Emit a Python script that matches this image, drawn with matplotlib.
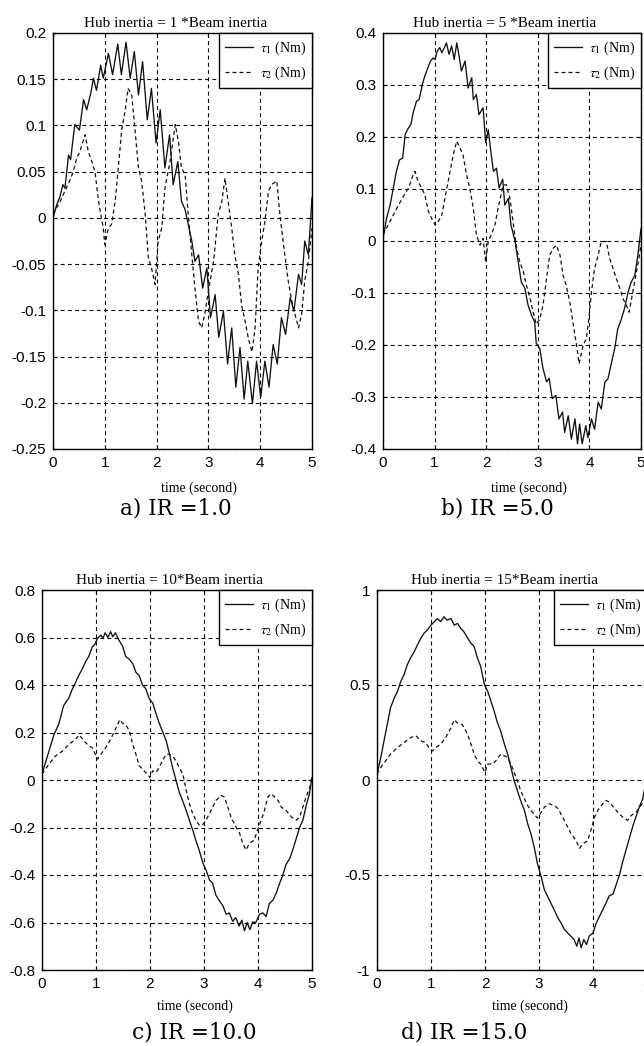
import matplotlib

matplotlib.use("Agg")
import matplotlib.pyplot as plt
from matplotlib.ticker import FixedLocator, FuncFormatter

plt.rcParams["mathtext.fontset"] = "stix"

# ---- panel a: hub inertia = 1 * beam inertia ----
A_TAU1_T = [0.00, 0.07, 0.135, 0.19, 0.23, 0.30, 0.34, 0.42, 0.51, 0.59, 0.65, 0.73, 0.78,
            0.84, 0.92, 0.97, 1.07, 1.15, 1.25, 1.32, 1.41, 1.49, 1.57, 1.65, 1.73, 1.82,
            1.90, 1.99, 2.07, 2.16, 2.25, 2.32, 2.41, 2.48, 2.55, 2.61, 2.68, 2.74, 2.81,
            2.89, 2.97, 3.04, 3.13, 3.20, 3.29, 3.37, 3.45, 3.53, 3.61, 3.69, 3.76, 3.85,
            3.93, 4.01, 4.09, 4.17, 4.25, 4.33, 4.41, 4.49, 4.58, 4.65, 4.74, 4.80, 4.86,
            4.93, 5.00]
A_TAU1_V = [0.0, 0.014, 0.023, 0.036, 0.032, 0.068, 0.063, 0.101, 0.095, 0.128, 0.117, 0.135,
            0.151, 0.138, 0.165, 0.151, 0.178, 0.155, 0.188, 0.155, 0.190, 0.151, 0.180, 0.133,
            0.169, 0.106, 0.140, 0.081, 0.117, 0.054, 0.090, 0.036, 0.061, 0.018, 0.009, -0.007,
            -0.025, -0.047, -0.040, -0.076, -0.054, -0.108, -0.083, -0.129, -0.101, -0.158,
            -0.119, -0.183, -0.140, -0.196, -0.155, -0.201, -0.155, -0.194, -0.155, -0.183,
            -0.137, -0.158, -0.108, -0.126, -0.086, -0.101, -0.061, -0.072, -0.025, -0.040,
            0.022]
A_TAU2_T = [0.00, 0.14, 0.23, 0.33, 0.39, 0.46, 0.52, 0.62, 0.68, 0.75, 0.81, 0.88, 0.94,
            0.97, 1.00, 1.07, 1.13, 1.20, 1.26, 1.33, 1.39, 1.45, 1.52, 1.58, 1.65, 1.71,
            1.78, 1.84, 1.90, 1.97, 2.03, 2.10, 2.16, 2.26, 2.36, 2.42, 2.48, 2.55, 2.61,
            2.68, 2.74, 2.81, 2.87, 2.93, 3.00, 3.10, 3.19, 3.26, 3.32, 3.38, 3.45, 3.51,
            3.58, 3.64, 3.71, 3.77, 3.84, 3.90, 3.96, 4.03, 4.09, 4.16, 4.22, 4.32, 4.38,
            4.45, 4.54, 4.61, 4.67, 4.74, 4.80, 4.86, 4.93, 5.00]
A_TAU2_V = [0.004, 0.018, 0.029, 0.041, 0.050, 0.065, 0.072, 0.090, 0.072, 0.061, 0.050,
            0.018, -0.002, -0.011, -0.029, -0.011, -0.007, 0.018, 0.054, 0.097, 0.115, 0.140,
            0.133, 0.097, 0.054, 0.040, 0.004, -0.043, -0.054, -0.072, -0.025, -0.011, 0.032,
            0.061, 0.101, 0.083, 0.054, 0.047, 0.004, -0.040, -0.076, -0.112, -0.119, -0.104,
            -0.079, -0.047, 0.004, 0.018, 0.043, 0.018, -0.011, -0.040, -0.061, -0.094,
            -0.112, -0.130, -0.145, -0.120, -0.054, -0.025, -0.004, 0.029, 0.036, 0.040,
            0.004, -0.029, -0.068, -0.090, -0.104, -0.119, -0.104, -0.068, -0.047, -0.011]
A_YTICKS = [-0.25, -0.2, -0.15, -0.1, -0.05, 0, 0.05, 0.1, 0.15, 0.2]

# ---- panel b: hub inertia = 5 * beam inertia ----
B_TAU1_T = [0.00, 0.07, 0.14, 0.20, 0.26, 0.32, 0.38, 0.43, 0.49, 0.54, 0.59, 0.65, 0.70,
            0.77, 0.81, 0.88, 0.92, 0.97, 1.01, 1.05, 1.10, 1.14, 1.19, 1.23, 1.28, 1.33,
            1.38, 1.43, 1.48, 1.52, 1.59, 1.65, 1.72, 1.75, 1.81, 1.86, 1.94, 1.99, 2.04,
            2.09, 2.14, 2.20, 2.25, 2.32, 2.36, 2.43, 2.48, 2.56, 2.62, 2.68, 2.75, 2.81,
            2.88, 2.94, 2.97, 3.04, 3.10, 3.17, 3.22, 3.28, 3.35, 3.41, 3.48, 3.52, 3.59,
            3.65, 3.72, 3.77, 3.81, 3.86, 3.93, 3.97, 4.04, 4.10, 4.17, 4.23, 4.30, 4.36,
            4.43, 4.49, 4.55, 4.62, 4.68, 4.75, 4.81, 4.88, 4.94, 5.00]
B_TAU1_V = [0.005, 0.044, 0.070, 0.102, 0.134, 0.156, 0.159, 0.205, 0.217, 0.224, 0.249,
            0.269, 0.272, 0.304, 0.317, 0.336, 0.346, 0.352, 0.349, 0.365, 0.372, 0.362,
            0.372, 0.381, 0.359, 0.375, 0.349, 0.381, 0.352, 0.327, 0.346, 0.294, 0.314,
            0.272, 0.282, 0.243, 0.256, 0.189, 0.214, 0.172, 0.134, 0.140, 0.102, 0.119,
            0.069, 0.082, 0.031, -0.001, -0.040, -0.079, -0.091, -0.123, -0.143, -0.156,
            -0.197, -0.207, -0.245, -0.271, -0.264, -0.303, -0.297, -0.342, -0.329, -0.368,
            -0.336, -0.381, -0.342, -0.390, -0.352, -0.390, -0.355, -0.378, -0.342, -0.362,
            -0.310, -0.323, -0.271, -0.265, -0.233, -0.207, -0.169, -0.150, -0.130, -0.098,
            -0.079, -0.066, -0.027, 0.024]
B_TAU2_T = [0.00, 0.10, 0.20, 0.30, 0.39, 0.49, 0.59, 0.62, 0.68, 0.75, 0.81, 0.88, 0.94,
            1.01, 1.07, 1.14, 1.20, 1.30, 1.36, 1.43, 1.49, 1.55, 1.62, 1.68, 1.75, 1.81,
            1.88, 1.94, 1.99, 2.04, 2.10, 2.17, 2.23, 2.33, 2.39, 2.46, 2.52, 2.59, 2.65,
            2.72, 2.78, 2.85, 2.91, 2.97, 3.04, 3.10, 3.17, 3.23, 3.30, 3.36, 3.43, 3.49,
            3.55, 3.62, 3.68, 3.75, 3.80, 3.88, 3.94, 3.99, 4.04, 4.10, 4.17, 4.23, 4.33,
            4.39, 4.46, 4.52, 4.59, 4.65, 4.72, 4.77, 4.83, 4.90, 4.96, 5.00]
B_TAU2_V = [0.012, 0.031, 0.050, 0.069, 0.085, 0.101, 0.129, 0.134, 0.114, 0.102, 0.089,
            0.057, 0.044, 0.031, 0.037, 0.050, 0.082, 0.134, 0.166, 0.192, 0.179, 0.166,
            0.127, 0.102, 0.063, 0.012, -0.008, 0.005, -0.040, 0.000, 0.012, 0.031, 0.063,
            0.108, 0.108, 0.082, 0.037, -0.014, -0.040, -0.059, -0.085, -0.111, -0.137,
            -0.160, -0.150, -0.124, -0.072, -0.027, -0.014, -0.008, -0.027, -0.066, -0.085,
            -0.117, -0.156, -0.200, -0.236, -0.200, -0.188, -0.149, -0.098, -0.053, -0.027,
            -0.001, -0.001, -0.033, -0.053, -0.072, -0.091, -0.111, -0.124, -0.137, -0.104,
            -0.066, -0.033, -0.008]
B_YTICKS = [-0.4, -0.3, -0.2, -0.1, 0, 0.1, 0.2, 0.3, 0.4]

# ---- panel c: hub inertia = 10 * beam inertia ----
C_TAU1_T = [0.00, 0.10, 0.22, 0.31, 0.40, 0.50, 0.56, 0.62, 0.68, 0.74, 0.81, 0.87, 0.93,
            0.97, 1.03, 1.09, 1.13, 1.17, 1.22, 1.27, 1.31, 1.36, 1.42, 1.49, 1.55, 1.61,
            1.68, 1.74, 1.80, 1.86, 1.92, 1.99, 2.05, 2.11, 2.17, 2.24, 2.30, 2.36, 2.42,
            2.48, 2.54, 2.60, 2.67, 2.73, 2.79, 2.85, 2.91, 2.98, 3.04, 3.10, 3.16, 3.22,
            3.29, 3.35, 3.41, 3.47, 3.53, 3.59, 3.65, 3.70, 3.75, 3.80, 3.85, 3.90, 3.96,
            4.03, 4.09, 4.15, 4.21, 4.28, 4.34, 4.40, 4.46, 4.52, 4.59, 4.65, 4.71, 4.77,
            4.83, 4.89, 4.95, 5.00]
C_TAU1_V = [0.025, 0.100, 0.190, 0.235, 0.313, 0.347, 0.382, 0.410, 0.440, 0.465, 0.500,
            0.522, 0.560, 0.568, 0.597, 0.610, 0.597, 0.620, 0.600, 0.625, 0.603, 0.620,
            0.590, 0.565, 0.520, 0.510, 0.490, 0.453, 0.440, 0.400, 0.385, 0.340, 0.325,
            0.280, 0.240, 0.200, 0.165, 0.110, 0.050, 0.000, -0.050, -0.085, -0.128, -0.170,
            -0.210, -0.255, -0.295, -0.350, -0.380, -0.420, -0.435, -0.485, -0.510, -0.530,
            -0.565, -0.560, -0.595, -0.580, -0.615, -0.590, -0.635, -0.600, -0.630, -0.598,
            -0.600, -0.565, -0.560, -0.575, -0.520, -0.505, -0.475, -0.435, -0.400, -0.355,
            -0.330, -0.290, -0.245, -0.200, -0.170, -0.110, -0.060, 0.010]
C_TAU2_T = [0.00, 0.13, 0.25, 0.38, 0.50, 0.62, 0.69, 0.78, 0.87, 0.93, 1.03, 1.09, 1.18,
            1.27, 1.37, 1.44, 1.49, 1.55, 1.62, 1.68, 1.74, 1.80, 1.86, 1.92, 2.00, 2.05,
            2.11, 2.17, 2.23, 2.30, 2.36, 2.42, 2.48, 2.54, 2.61, 2.67, 2.73, 2.79, 2.85,
            2.91, 2.97, 3.04, 3.10, 3.16, 3.22, 3.32, 3.38, 3.44, 3.50, 3.59, 3.66, 3.72,
            3.78, 3.84, 3.93, 3.99, 4.06, 4.12, 4.18, 4.24, 4.31, 4.37, 4.43, 4.52, 4.62,
            4.71, 4.77, 4.83, 4.89, 4.96, 5.00]
C_TAU2_V = [0.025, 0.067, 0.101, 0.122, 0.150, 0.171, 0.190, 0.164, 0.143, 0.136, 0.088,
            0.108, 0.136, 0.171, 0.219, 0.254, 0.240, 0.233, 0.206, 0.150, 0.108, 0.060,
            0.046, 0.032, 0.011, 0.039, 0.032, 0.053, 0.081, 0.108, 0.108, 0.101, 0.081,
            0.053, 0.025, -0.044, -0.100, -0.142, -0.169, -0.190, -0.190, -0.169, -0.142,
            -0.114, -0.086, -0.065, -0.072, -0.114, -0.156, -0.197, -0.225, -0.267, -0.295,
            -0.267, -0.253, -0.211, -0.169, -0.128, -0.072, -0.058, -0.072, -0.086, -0.114,
            -0.128, -0.156, -0.169, -0.156, -0.114, -0.072, -0.031, 0.011]
C_YTICKS = [-0.8, -0.6, -0.4, -0.2, 0, 0.2, 0.4, 0.6, 0.8]

# ---- panel d: hub inertia = 15 * beam inertia ----
D_TAU1_T = [0.00, 0.07, 0.13, 0.19, 0.25, 0.32, 0.38, 0.44, 0.50, 0.56, 0.62, 0.69, 0.75,
            0.81, 0.87, 0.93, 1.00, 1.06, 1.12, 1.18, 1.24, 1.30, 1.37, 1.43, 1.49, 1.55,
            1.61, 1.68, 1.74, 1.80, 1.86, 1.92, 1.99, 2.05, 2.11, 2.17, 2.23, 2.29, 2.36,
            2.42, 2.48, 2.54, 2.60, 2.66, 2.73, 2.79, 2.85, 2.91, 2.97, 3.04, 3.10, 3.16,
            3.22, 3.28, 3.35, 3.41, 3.47, 3.53, 3.59, 3.65, 3.70, 3.74, 3.78, 3.83, 3.88,
            3.93, 4.00, 4.06, 4.12, 4.18, 4.24, 4.30, 4.37, 4.43, 4.49, 4.55, 4.61, 4.68,
            4.74, 4.80, 4.86, 4.92, 5.00]
D_TAU1_V = [0.031, 0.118, 0.206, 0.293, 0.380, 0.432, 0.467, 0.519, 0.554, 0.606, 0.641,
            0.676, 0.711, 0.746, 0.772, 0.789, 0.815, 0.833, 0.850, 0.833, 0.859, 0.841,
            0.850, 0.815, 0.824, 0.798, 0.780, 0.746, 0.720, 0.702, 0.641, 0.598, 0.502,
            0.467, 0.415, 0.362, 0.301, 0.258, 0.188, 0.136, 0.066, -0.003, -0.056, -0.108,
            -0.160, -0.230, -0.282, -0.352, -0.439, -0.509, -0.578, -0.613, -0.648, -0.683,
            -0.726, -0.753, -0.787, -0.805, -0.822, -0.840, -0.875, -0.831, -0.883, -0.840,
            -0.866, -0.822, -0.805, -0.753, -0.718, -0.683, -0.648, -0.610, -0.600, -0.550,
            -0.500, -0.430, -0.370, -0.300, -0.240, -0.190, -0.140, -0.100, 0.020]
D_TAU2_T = [0.00, 0.07, 0.16, 0.25, 0.38, 0.50, 0.62, 0.72, 0.81, 0.90, 0.96, 1.03, 1.09,
            1.18, 1.27, 1.37, 1.43, 1.49, 1.58, 1.68, 1.74, 1.80, 1.86, 1.92, 2.00, 2.05,
            2.14, 2.20, 2.29, 2.36, 2.42, 2.48, 2.54, 2.60, 2.66, 2.73, 2.79, 2.85, 2.91,
            2.97, 3.04, 3.10, 3.19, 3.28, 3.35, 3.41, 3.50, 3.59, 3.69, 3.75, 3.81, 3.90,
            3.96, 4.03, 4.09, 4.18, 4.24, 4.30, 4.37, 4.46, 4.55, 4.64, 4.71, 4.80, 4.89,
            4.95]
D_TAU2_V = [0.031, 0.066, 0.101, 0.136, 0.171, 0.197, 0.223, 0.233, 0.206, 0.197, 0.171,
            0.153, 0.171, 0.188, 0.223, 0.275, 0.317, 0.300, 0.291, 0.240, 0.188, 0.136,
            0.101, 0.084, 0.040, 0.084, 0.084, 0.101, 0.136, 0.127, 0.118, 0.084, 0.040,
            -0.003, -0.056, -0.099, -0.134, -0.160, -0.180, -0.200, -0.170, -0.143, -0.125,
            -0.134, -0.150, -0.180, -0.230, -0.280, -0.320, -0.360, -0.335, -0.320, -0.265,
            -0.195, -0.160, -0.125, -0.108, -0.115, -0.140, -0.170, -0.195, -0.212, -0.186,
            -0.169, -0.134, -0.108]
D_YTICKS = [-1, -0.5, 0, 0.5, 1]

X_TICKS = [0, 1, 2, 3, 4, 5]
TITLES = ["Hub inertia = 1 *Beam inertia", "Hub inertia = 5 *Beam inertia",
          "Hub inertia = 10*Beam inertia", "Hub inertia = 15*Beam inertia"]
CAPTIONS = ["a) IR =1.0", "b) IR =5.0", "c) IR =10.0", "d) IR =15.0"]
LABELS = [r"$\tau_1$ (Nm)", r"$\tau_2$ (Nm)"]

W, H = 644, 1046
# axes boxes in pixels: left, top, right, bottom
BOXES = [(53, 33, 312, 449), (383, 33, 641, 449),
         (42, 590, 312, 970), (377, 590, 647, 970)]
CAPTION_XY = [(176, 508), (497, 508), (194, 1032), (464, 1032)]

SERIES = [
    (A_TAU1_T, A_TAU1_V, A_TAU2_T, A_TAU2_V, A_YTICKS),
    (B_TAU1_T, B_TAU1_V, B_TAU2_T, B_TAU2_V, B_YTICKS),
    (C_TAU1_T, C_TAU1_V, C_TAU2_T, C_TAU2_V, C_YTICKS),
    (D_TAU1_T, D_TAU1_V, D_TAU2_T, D_TAU2_V, D_YTICKS),
]

SERIF = ["Liberation Serif", "DejaVu Serif"]
TICK_FONT = {"family": "Liberation Sans", "size": 11}


def _fmt(v, _pos):
    return f"{v:g}"


def _panel(fig, box, data, title):
    l, t, r, b = box
    ax = fig.add_axes([l / W, 1 - b / H, (r - l) / W, (b - t) / H])
    t1, v1, t2, v2, yticks = data
    ax.plot(t1, v1, color="#111111", lw=0.95, label=LABELS[0])
    ax.plot(t2, v2, color="#111111", lw=0.9, ls=(0, (3.2, 2.4)), label=LABELS[1])

    ax.set_xlim(0, 5)
    ax.set_ylim(yticks[0], yticks[-1])
    ax.xaxis.set_major_locator(FixedLocator(X_TICKS))
    ax.yaxis.set_major_locator(FixedLocator(yticks))
    ax.yaxis.set_major_formatter(FuncFormatter(_fmt))
    ax.tick_params(direction="in", length=3, width=0.8, top=True, right=True, pad=5)
    for lab in ax.get_xticklabels() + ax.get_yticklabels():
        lab.set_fontfamily(TICK_FONT["family"])
        lab.set_fontsize(TICK_FONT["size"])
    ax.grid(True, color="black", lw=0.8, ls=(0, (3.5, 3)))
    for sp in ax.spines.values():
        sp.set_linewidth(1.0)

    ax.set_title(title, family=SERIF, fontsize=11, x=0.472, pad=4)
    ax.set_xlabel("time (second)", family=SERIF, fontsize=10)
    ax.xaxis.set_label_coords(0.565, -0.078)

    leg = ax.legend(loc="upper right", borderaxespad=0, fancybox=False, framealpha=1,
                    edgecolor="black", handlelength=2.0, handletextpad=0.5,
                    borderpad=0.45, labelspacing=0.55,
                    prop={"family": SERIF, "size": 10})
    leg.get_frame().set_linewidth(1.0)
    return ax


fig = plt.figure(figsize=(W / 100, H / 100), dpi=100)
for box, data, title in zip(BOXES, SERIES, TITLES):
    _panel(fig, box, data, title)

for (cx, cy), cap in zip(CAPTION_XY, CAPTIONS):
    fig.text(cx / W, 1 - cy / H, cap, ha="center", va="center",
             family="DejaVu Serif", fontsize=15.5)

fig.savefig("out.png", dpi=100)
